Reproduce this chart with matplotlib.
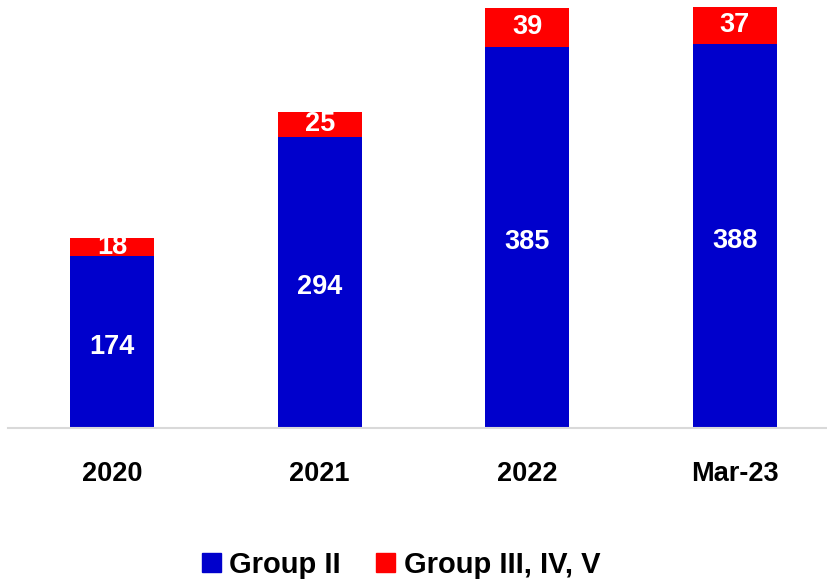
import matplotlib
matplotlib.use("Agg")
import matplotlib.pyplot as plt
from matplotlib.patches import Patch

categories = ["2020", "2021", "2022", "Mar-23"]
group2 = [174, 294, 385, 388]
group345 = [18, 25, 39, 37]
series_names = ["Group II", "Group III, IV, V"]

blue = "#0000CC"
red = "#FF0000"

plt.rcParams['font.family'] = ['Liberation Sans', 'DejaVu Sans']
plt.rcParams['font.weight'] = 'bold'

fig = plt.figure(figsize=(8.28, 5.83), dpi=100)
ax = fig.add_axes([8/828, 155/583, 820/828, 428/583])

x = list(range(len(categories)))
w = 0.404
ax.bar(x, group2, width=w, color=blue)
ax.bar(x, group345, width=w, bottom=group2, color=red)

fs = 19.5
for i in x:
    ax.text(i, group2[i] * 0.5 - 5, str(group2[i]), ha='center', va='center',
            color='white', fontsize=fs, fontweight='bold')
    ax.text(i, group2[i] + group345[i] / 2, str(group345[i]), ha='center', va='center',
            color='white', fontsize=fs, fontweight='bold')

ax.set_xlim(-0.5007, 3.448)
ax.set_ylim(0, 432)
ax.set_xticks(x)
ax.set_xticklabels(categories, fontsize=fs, fontweight='bold')
ax.tick_params(axis='x', length=0, pad=24)
ax.set_yticks([])
for s in ['top', 'right', 'left']:
    ax.spines[s].set_visible(False)
ax.spines['bottom'].set_color('#D9D9D9')
ax.spines['bottom'].set_linewidth(1.5)

handles = [Patch(color=blue), Patch(color=red)]
fig.legend(handles, series_names, loc='center', bbox_to_anchor=(401/828, 1 - 565/583),
           ncol=2, frameon=False, handlelength=0.65, handleheight=0.65,
           handletextpad=0.3, columnspacing=1.2, prop={'weight': 'bold', 'size': 21})

fig.savefig("out.png", dpi=100)
